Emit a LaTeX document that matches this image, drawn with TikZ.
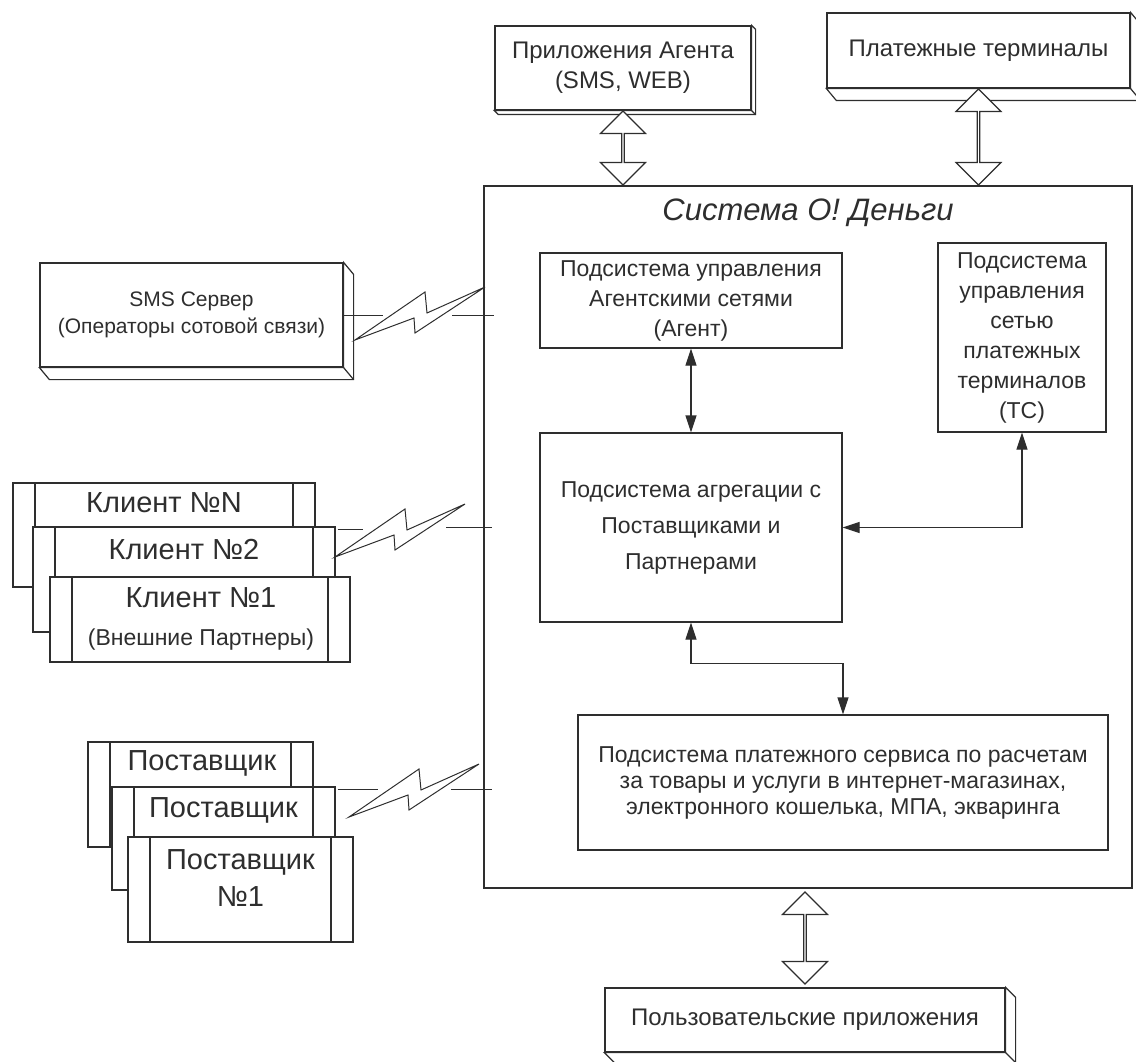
\documentclass[tikz,border=0pt]{standalone}
\usepackage{fontspec}
\setmainfont{Liberation Sans}
\usetikzlibrary{arrows.meta,shapes.arrows,calc}
\definecolor{ink}{HTML}{2E2E2E}
\newcommand{\extrude}[3]{%
  \draw[fill=white] (#1.north east) -- ++(#2,#3) -- ($(#1.south east)+(#2,#3)$)
    -- ($(#1.south west)+(#2,#3)$) -- (#1.south west) -- (#1.south east) -- cycle;
  \draw (#1.south east) -- ++(#2,#3);}
\begin{document}
\begin{tikzpicture}[x=1pt,y=-1pt,color=ink,line width=1.2pt,
  box/.style={draw,fill=white,inner sep=0pt,align=center},
  sub/.style={box,path picture={\draw[line width=1.2pt]
    ([xshift=22pt]path picture bounding box.north west) -- ([xshift=22pt]path picture bounding box.south west)
    ([xshift=-22pt]path picture bounding box.north east) -- ([xshift=-22pt]path picture bounding box.south east);}},
  dblarrow/.style={double arrow,draw,fill=white,rotate=90,inner sep=0pt,
    minimum width=45pt,double arrow head extend=10pt},
  link/.style={{Triangle[length=17pt,width=11pt]}-{Triangle[length=17pt,width=11pt]}},
  wire/.style={line width=1pt},
  bolt/.pic={\draw[wire] (0,0) -- (70,-48) -- (72,-27) -- (130,-53) -- (60,-7) -- (59,-22) -- cycle;},
  ftop/.style={font=\fontsize{24}{30}\selectfont},
  fsub/.style={font=\fontsize{23}{30}\selectfont},
  fpay/.style={font=\fontsize{23}{26}\selectfont},
  fsms/.style={font=\fontsize{21}{27}\selectfont},
  fcl/.style={font=\fontsize{29}{32}\selectfont,inner sep=0pt},
  fnote/.style={font=\fontsize{23}{26}\selectfont,inner sep=0pt},
  fsup/.style={font=\fontsize{29}{37}\selectfont,inner sep=0pt,align=center}]

\useasboundingbox (0,0) rectangle (1136,1062);

\node[box,ftop,minimum width=256pt,minimum height=84pt] (app) at (623,68) {Приложения Агента\\(SMS, WEB)};
\extrude{app}{4}{4}
\node[box,ftop,minimum width=303pt,minimum height=75pt] (term) at (978.5,50.5) {Платежные терминалы};
\extrude{term}{10}{12}

\node[box,minimum width=648pt,minimum height=702pt] (sys) at (808,537) {};
\node[font=\fontsize{31}{31}\selectfont\itshape] (title) at (808,213) {Система О! Деньги};

\node[box,fsub,minimum width=302pt,minimum height=95pt] (agent) at (691,300.5) {Подсистема управления\\Агентскими сетями\\(Агент)};
\node[box,fsub,minimum width=168pt,minimum height=189pt] (tc) at (1022,337.5) {Подсистема\\управления\\сетью\\платежных\\терминалов\\(ТС)};
\node[box,fsub,minimum width=302pt,minimum height=189pt] (agg) at (691,527.5) {Подсистема агрегации с\\[6pt]Поставщиками и\\[6pt]Партнерами};
\node[box,fpay,minimum width=530pt,minimum height=135pt] (pay) at (843,782.5) {Подсистема платежного сервиса по расчетам\\за товары и услуги в интернет-магазинах,\\электронного кошелька, МПА, экваринга};

\draw[link] (agent) -- (agg);
\draw[link] (agg.east) -| (tc.south);
\draw[link] (agg.south) -- ++(0,41) -| (pay.north);

\node[box,ftop,minimum width=400pt,minimum height=64pt] (user) at (805,1020) {Пользовательские приложения};
\extrude{user}{10}{10}

\node[dblarrow,minimum height=74pt] (a1) at ($(app.south)!0.5!(app.south |- sys.north)$) {};
\node[dblarrow,minimum height=96pt] (a2) at ($(term.south)!0.5!(term.south |- sys.north)$) {};
\node[dblarrow,minimum height=92pt] (a3) at ($(user.north)!0.5!(user.north |- sys.south)$) {};

\node[box,fsms,minimum width=303pt,minimum height=104pt] (sms) at (191.5,315) {SMS Сервер\\(Операторы сотовой связи)};
\extrude{sms}{10}{12}
\draw[wire] (sms.east) -- ++(39,0);
\draw[wire] (sys.west |- sms.east) ++(-31,0) -- ++(42,0);
\pic at (355,340) {bolt};

\node[sub,minimum width=302pt,minimum height=104pt] (cN) at (164,535) {};
\node[fcl] (cNt) at (164,503) {Клиент №N};
\node[sub,minimum width=302pt,minimum height=105pt] (c2) at (184,579.5) {};
\node[fcl] (c2t) at (184,550) {Клиент №2};
\node[sub,minimum width=300pt,minimum height=85pt] (c1) at (200,619.5) {};
\node[fcl] (c1t) at (201,598) {Клиент №1};
\node[fnote] (c1n) at (201,640) {(Внешние Партнеры)};
\draw[wire] (c2.north east) ++(2,3) -- ++(25,0);
\draw[wire] (sys.west |- c2.north) ++(-37,1) -- ++(46,0);
\pic at (335,557) {bolt};

\node[sub,minimum width=225pt,minimum height=105pt] (sN) at (200.5,794.5) {};
\node[fsup] (sNt) at (202,763) {Поставщик};
\node[sub,minimum width=223pt,minimum height=103pt] (s2) at (223.5,838.5) {};
\node[fsup] (s2t) at (223.5,810) {Поставщик};
\node[sub,minimum width=225pt,minimum height=105pt] (s1) at (240.5,889.5) {};
\node[fsup] (s1t) at (240.5,878) {Поставщик\\№1};
\draw[wire] (s2.north east) ++(2,3) -- ++(40,0);
\draw[wire] (sys.west |- s2.north) ++(-32,3) -- ++(41,0);
\pic at (349,817) {bolt};

\end{tikzpicture}
\end{document}
